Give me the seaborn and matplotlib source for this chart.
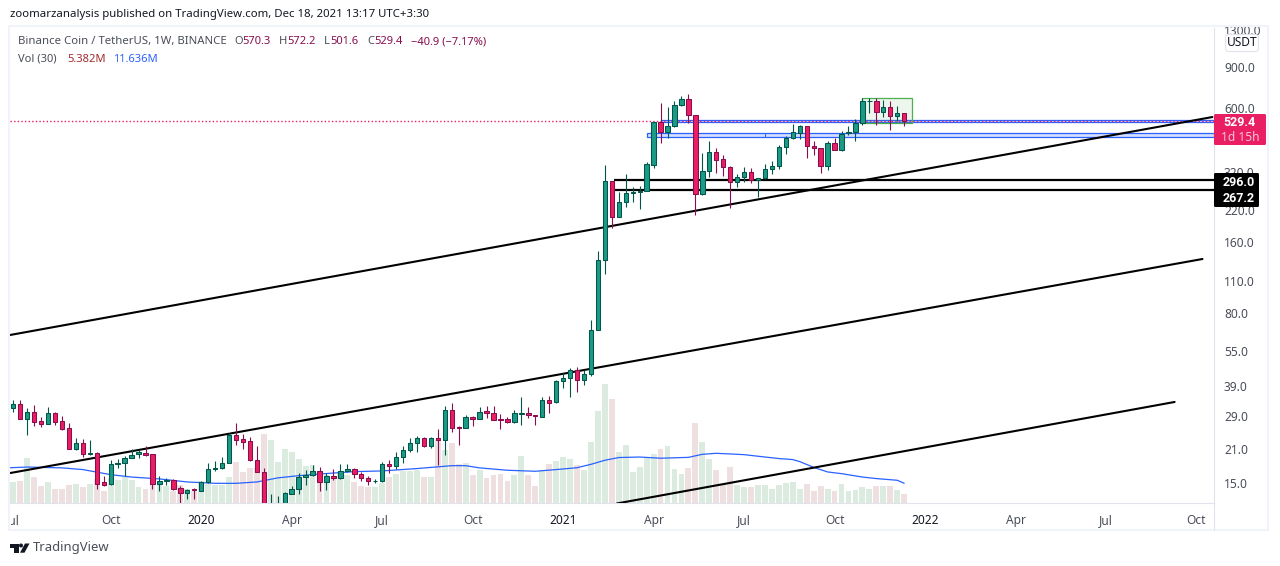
"""
BNB/USDT weekly chart with volume, trend lines and price zones.
Prices and volumes were read off a published TradingView picture.
"""
import matplotlib
matplotlib.use("Agg")
import matplotlib.dates as mdates
import matplotlib.pyplot as plt
import numpy as np
import pandas as pd
import seaborn as sns
from matplotlib.patches import Circle, FancyBboxPatch, Polygon, Rectangle
from matplotlib.ticker import NullLocator
from matplotlib.transforms import Bbox

# weekly candles, first bar is the week of 2019-07-01
opens = [31.5, 32.7, 28.1, 30.1, 27.6, 26.9, 29.8, 27.5, 25.7, 21.0,
         22.2, 20.0, 20.15, 15.1, 14.8, 18.0, 18.3, 19.15, 19.95, 20.2,
         19.95, 14.8, 15.3, 15.5, 14.25, 13.55, 14.1, 13.85, 15.1, 17.2,
         17.35, 18.25, 24.1, 23.05, 22.6, 18.8, 16.7, 10.1, 11.8, 12.2,
         13.5, 14.1, 15.9, 16.2, 16.9, 15.1, 16.05, 15.75, 16.8, 17.15,
         16.4, 15.75, 15.25, 15.25, 18.0, 17.8, 19.3, 20.75, 22.2, 23.3,
         21.5, 23.3, 22.85, 30.7, 26.0, 25.85, 28.65, 28.1, 30.4, 29.8,
         28.15, 28.1, 27.3, 29.7, 29.8, 29.2, 28.85, 33.9, 33.2, 40.75,
         42.0, 45.6, 41.2, 43.8, 67.5, 134.3, 292.4, 206.4, 237.3, 259.7,
         262, 264.9, 344.3, 522, 476.4, 502, 617, 655, 563, 257.2,
         322.4, 389, 362.9, 335.4, 289.4, 304, 319.6, 296.1, 301, 329,
         338, 408, 446, 472, 502, 413, 404, 340, 425, 399,
         469, 473, 518, 641, 642, 577, 606, 554, 570.3]
highs = [34, 34, 31.3, 32.35, 28.6, 31.6, 30.1, 29, 27, 23.3,
         23.05, 22.9, 20.3, 16.1, 18.85, 19, 19.6, 20.9, 20.7, 21.6,
         20, 16, 15.7, 15.6, 14.5, 14.1, 14.3, 15.3, 18.25, 18.55,
         19.35, 24.5, 27.2, 24.3, 23.7, 21.6, 17.4, 13.5, 13.2, 13.75,
         14.5, 16.5, 17.08, 17.9, 17.6, 16.5, 17.2, 18.1, 18.1, 17.35,
         16.65, 16.1, 15.6, 18.4, 18.85, 20.3, 21.65, 23.3, 23.8, 23.5,
         23.5, 25.45, 31.85, 32.9, 26.4, 29.3, 29, 31.6, 31.85, 32.05,
         29.5, 28.65, 30.8, 34.9, 31.6, 29.3, 35.1, 35.4, 41.4, 44.3,
         46.5, 47, 45.7, 74.7, 147.3, 343, 292.4, 263.9, 314.1, 275.5,
         279, 354.6, 522, 633.6, 609, 644, 676, 690, 563, 387.7,
         433, 404.5, 377.8, 340, 313, 335.4, 331.8, 303, 346.6, 357,
         418, 456, 514, 507, 502, 435, 404, 435, 449, 480,
         503, 538, 661, 661, 661, 650, 644, 613, 572.2]
lows = [30.3, 28.1, 24.1, 26.3, 26.15, 26.9, 26.6, 25.3, 20.9, 20.8,
        19.45, 19.75, 14.2, 14.5, 14.7, 17.4, 16.0, 19.1, 19.15, 19.6,
        14.2, 13.8, 14.75, 14.0, 12.3, 12.8, 12.8, 13.8, 15.0, 16.9,
        17.2, 18.25, 21.7, 20.9, 18.7, 16.7, 6.9, 9.0, 10.7, 12.0,
        13.45, 13.5, 14.7, 16.0, 13.8, 13.95, 15.5, 15.65, 16.7, 15.8,
        15.25, 14.75, 15.05, 15.2, 16.55, 17.15, 18.35, 20.45, 20.45, 21.35,
        21.15, 17.9, 19.8, 24.9, 21.9, 25.7, 26.4, 28.1, 28.4, 27.9,
        25.5, 27.0, 27.2, 26.5, 28.55, 26.5, 28.75, 30.0, 33.1, 38.1,
        34.8, 36.7, 39.5, 43.1, 67.5, 117.8, 185.2, 206.4, 227.8, 239.2,
        222.5, 264.9, 334, 427.4, 449, 500, 613, 520, 209.7, 255.5,
        306, 318.2, 308, 225.5, 275.5, 291.3, 288, 251, 298, 314,
        331, 382, 443, 443, 369, 378, 318, 327, 398, 392,
        461, 433, 510, 570, 510, 548, 484, 530, 501.6]
closes = [32.7, 28.1, 30.1, 27.45, 26.9, 29.8, 27.45, 25.6, 21.0, 22.2,
          20.05, 20.15, 14.9, 14.75, 18.05, 18.3, 19.15, 19.85, 20.3, 19.75,
          14.8, 15.3, 15.5, 14.2, 13.55, 14.0, 14.0, 15.2, 17.2, 17.4,
          18.25, 24.1, 22.95, 22.5, 18.8, 16.7, 10.1, 11.8, 12.2, 13.6,
          14.1, 15.9, 16.3, 16.9, 15.1, 16.05, 15.7, 16.8, 17.2, 16.4,
          15.75, 15.25, 15.3, 18.0, 17.8, 19.35, 20.75, 22.2, 23.3, 21.5,
          23.3, 22.85, 30.7, 25.85, 25.8, 28.65, 28.1, 30.3, 29.8, 28.0,
          28.0, 27.3, 29.8, 29.9, 29.2, 28.9, 33.8, 33.1, 40.75, 42.0,
          45.6, 41.2, 43.8, 67.5, 134.3, 292.4, 206.4, 237.3, 259.7, 264,
          265.8, 345.4, 522, 476.4, 502, 617, 655, 563, 257.2, 322.4,
          388.9, 361.7, 335.4, 289.4, 304, 319.6, 296.1, 301, 329, 338.8,
          408.3, 446, 473, 502, 412, 404, 340, 425, 399, 464,
          474.5, 519, 642, 644, 577, 606, 554, 570.3, 529.4]

# volume in millions
volumes = [12.2, 13.2, 26.8, 15.5, 10.2, 12.6, 8.5, 8.5, 10.8, 11.4,
           9.2, 11.4, 14.2, 7.3, 14.6, 13.4, 15.1, 13.8, 9.4, 8.5,
           12, 11.4, 9.8, 6.9, 10.8, 8.3, 6.9, 12.8, 11.4, 10.8,
           10.8, 15.5, 24.4, 18.5, 20.5, 20.7, 40.9, 37.4, 24, 32,
           30.3, 26, 22, 22.6, 15, 16.7, 15.7, 18.7, 16.7, 12.6,
           10.2, 9.6, 9.6, 11.8, 15.5, 17.3, 19.1, 18.7, 19.3, 15.5,
           15.5, 37.4, 31.5, 35.6, 23.2, 23.8, 16.7, 19.7, 14.9, 16.7,
           17.3, 13.2, 16.7, 27.9, 16.7, 10.2, 19.7, 23.2, 25, 27.3,
           26.2, 22.6, 19.7, 36.2, 54.5, 70.4, 61.6, 30.3, 34.4, 18.5,
           21.4, 26.6, 29.1, 32.1, 33.8, 20.3, 17.3, 20.9, 47.4, 36.2,
           26.2, 19.7, 11.4, 21.4, 10.8, 9.6, 9.6, 10.4, 10.8, 8.5,
           10.8, 12, 12.6, 8.5, 11.4, 7.3, 10.2, 8.5, 7.3, 11.4,
           7.3, 7.9, 9.6, 8.5, 10.2, 10.2, 10.2, 7.9, 5.382]

# volume moving average, read at these bar numbers
ma_bars = [-1, 2, 7, 10, 14, 17, 21, 25, 29, 32, 35, 38, 41, 44, 49, 53, 58, 63,
           65, 67, 71, 75, 78, 81, 83, 85, 87, 90, 93, 97, 99, 101, 105, 108,
           110, 112, 113, 115, 117, 119, 122, 124, 127, 128]
ma_values = [20.7, 21.2, 20.7, 19.7, 16.7, 15.3, 14.2, 12.4, 11.6, 11.6, 12.4, 14.8,
             16.1, 17.1, 18.5, 18.9, 20.3, 22.0, 22.0, 20.7, 19.3, 18.7, 19.7, 20.8,
             22.8, 25.2, 26.8, 27.1, 26.4, 26.9, 28.7, 29.3, 28.5, 27.1, 26.2, 25.6,
             24.4, 21.0, 18.3, 17.3, 15.3, 14.4, 13.4, 11.636]

# drawings: (start date, start price, end date, end price)
trend_lines = [("2019-06-28", 64.4, "2022-10-19", 550),
               ("2019-06-28", 16.55, "2022-10-09", 136),
               ("2021-02-27", 12.26, "2022-09-11", 33.3)]
level_start = "2021-02-24"
levels = [296.0, 267.2]
last_price = 529.4

tick_dates = ["2019-07-01", "2019-10-07", "2020-01-06", "2020-04-06", "2020-07-06",
              "2020-10-05", "2021-01-04", "2021-04-05", "2021-07-05", "2021-10-04",
              "2022-01-03", "2022-04-04", "2022-07-04", "2022-10-03"]
tick_names = ["Jul", "Oct", "2020", "Apr", "Jul", "Oct", "2021", "Apr", "Jul", "Oct",
              "2022", "Apr", "Jul", "Oct"]
price_ticks = [1300, 900, 600, 320, 220, 160, 110, 80, 55, 39, 29, 21, 15]

GREEN = "#1b9a85"
GREEN_DARK = "#00564b"
RED = "#e91e63"
RED_DARK = "#880e4f"
BLUE = "#2962ff"
TEXT = "#4a4e59"
INK = "#131722"
LINE = "#e0e3eb"

sns.set_theme(style="white")
plt.rcParams["font.family"] = ["Noto Sans", "DejaVu Sans"]
plt.rcParams["font.size"] = 8.6

W, H = 1280, 566
LEFT, RIGHT, TOP, BOTTOM = 10, 1213.5, 28, 503
fig = plt.figure(figsize=(W / 100, H / 100), dpi=100, facecolor="white")
rect = [LEFT / W, (H - BOTTOM) / H, (RIGHT - LEFT) / W, (BOTTOM - TOP) / H]
ax_vol = fig.add_axes(rect, zorder=1)
ax = fig.add_axes(rect, zorder=2)
ax.patch.set_visible(False)

weeks = pd.date_range("2019-07-01", periods=len(opens), freq="7D")
xs = mdates.date2num(weeks)
xlim = (xs[0] - 3.3, xs[0] + 1207.1)
o, h, l, c = map(np.array, (opens, highs, lows, closes))
up = c >= o


def num(day):
    return mdates.date2num(pd.Timestamp(day))


# volume pane, light bars along the bottom
df = pd.DataFrame({"x": xs, "volume": volumes, "dir": np.where(up, "up", "down")})
sns.barplot(data=df, x="x", y="volume", hue="dir", native_scale=True, dodge=False,
            palette={"up": "#dcebdf", "down": "#eedfe0"}, saturation=1, width=0.84,
            errorbar=None, legend=False, linewidth=0, ax=ax_vol)
sns.lineplot(x=xs[0] + 7 * np.array(ma_bars), y=ma_values, color=BLUE, lw=0.9,
             errorbar=None, ax=ax_vol)
ax_vol.set_xlim(xlim)
ax_vol.set_ylim(0, 280)
ax_vol.axis("off")

# price pane
ax.set_yscale("log")
ax.set_xlim(xlim)
ax.set_ylim(12.32, 1321)

# zones
x_end = xlim[1]
for start, bottom, top in [("2021-04-12", 525, 535), ("2021-03-29", 450, 468)]:
    ax.add_patch(Rectangle((num(start), bottom), x_end - num(start), top - bottom,
                           fc=(0.16, 0.38, 1, 0.2), ec=BLUE, lw=0.9, zorder=2))
ax.vlines(num("2021-07-26"), 450, 468, color=BLUE, lw=0.7, zorder=2)
ax.add_patch(Rectangle((num("2021-11-01"), 517), 49.7, 661.7 - 517,
                       fc=(0.3, 0.69, 0.31, 0.1), ec="#4caf50", lw=0.9, zorder=2))
ax.hlines(last_price, xlim[0], x_end, color=RED, lw=1.0, linestyles=(0, (1, 1.6)), zorder=2.5)

for x0, y0, x1, y1 in trend_lines:
    ax.plot([num(x0), num(x1)], [y0, y1], color="black", lw=1.5, zorder=3)
ax.hlines(levels, num(level_start), x_end, color="black", lw=1.6, zorder=3)

# candles
colors = np.where(up, GREEN, RED)
edges = np.where(up, GREEN_DARK, RED_DARK)
ax.vlines(xs, l, h, colors=edges, lw=0.8, zorder=4)
ax.bar(xs, np.maximum(np.abs(c - o), 1e-3), bottom=np.minimum(o, c), width=4.4,
       color=colors, edgecolor=edges, linewidth=0.75, zorder=5)

# axes, ticks on the right and below
for side in ("left", "top"):
    ax.spines[side].set_visible(False)
for side in ("right", "bottom"):
    ax.spines[side].set_color(LINE)
    ax.spines[side].set_linewidth(0.8)
ax.yaxis.tick_right()
ax.yaxis.set_minor_locator(NullLocator())
ax.set_yticks(price_ticks)
ax.set_yticklabels([f"{p:.1f}" for p in price_ticks], color=TEXT, fontsize=8.6)
ax.set_xticks([num(d) for d in tick_dates])
ax.set_xticklabels(tick_names, fontsize=8.6)
ax.tick_params(axis="both", length=0)
ax.tick_params(axis="y", pad=7.5)
ax.tick_params(axis="x", pad=8)
for label in ax.get_xticklabels():
    is_year = label.get_text().isdigit()
    label.set_color(INK if is_year else TEXT)
    label.set_fontweight("medium" if is_year else "normal")
    # first label is cut by the chart edge, top price label too
    label.set_clip_box(Bbox([[LEFT + 0.5, 0], [W, H]]))
    label.set_clip_on(True)
for label in ax.get_yticklabels():
    label.set_clip_box(Bbox([[0, 0], [W, H - TOP + 1]]))
    label.set_clip_on(True)

# overlay in pixels for the frame, header, price tags and logo
ov = fig.add_axes([0, 0, 1, 1], zorder=10)
ov.set_xlim(0, W)
ov.set_ylim(H, 0)
ov.axis("off")
ov.add_patch(Rectangle((9, 26), 1259, 504, fc="none", ec="#f0f3fa", lw=1.5))
ov.plot([1214, 1214], [503, 530], color=LINE, lw=0.8)


def put(x, y, text, color=TEXT, size=8.2, weight="normal", ha="left", family=None):
    return ov.text(x, y, text, color=color, fontsize=size, fontweight=weight, ha=ha, va="center",
                   family=family)


put(10, 15, "zoomarzanalysis published on TradingView.com, Dec 18, 2021 13:17 UTC+3:30", color=INK)
put(18, 41.5, "Binance Coin / TetherUS, 1W, BINANCE", size=8.2)
for x_label, x_value, name, value in [(234, 242, "O", "570.3"), (279, 287, "H", "572.2"),
                                      (324, 330, "L", "501.6"), (367, 374, "C", "529.4")]:
    put(x_label, 41.5, name, size=8.0)
    put(x_value, 41.5, value, color=RED_DARK, size=8.0)
put(411, 41.5, "\u221240.9 (\u22127.17%)", color=RED_DARK, size=8.0)
put(18, 59, "Vol (30)", size=8.0)
put(67, 59, "5.382M", color="#a32a2e", size=8.0)
put(113, 59, "11.636M", color=BLUE, size=8.0)

ov.add_patch(FancyBboxPatch((1225.5, 34.5), 33, 17, boxstyle="round,pad=0,rounding_size=3",
                            fc="white", ec=LINE, lw=0.8))
put(1242, 43, "USDT", color=INK, ha="center", size=8.6)

ov.add_patch(FancyBboxPatch((1214, 114), 52, 31, boxstyle="round,pad=0,rounding_size=1.5",
                            fc=RED, ec="none"))
put(1239.5, 122.5, "529.4", color="white", weight="bold", ha="center", size=9, family="Roboto")
put(1240, 137.5, "1d 15h", color="#fbc4d6", ha="center", size=8.6)
ov.add_patch(FancyBboxPatch((1214, 173), 45, 34, boxstyle="round,pad=0,rounding_size=1.5",
                            fc="black", ec="none"))
put(1239, 182, "296.0", color="white", weight="bold", ha="center", size=9, family="Roboto")
put(1239, 198.5, "267.2", color="white", weight="bold", ha="center", size=9, family="Roboto")

ov.add_patch(Polygon([(10, 543.5), (18.5, 543.5), (18.5, 552.7), (14.3, 552.7), (14.3, 547.5), (10, 547.5)],
                     fc=INK, ec="none"))
ov.add_patch(Circle((21, 545.5), 2, fc=INK, ec="none"))
ov.add_patch(Polygon([(25, 543.5), (29.5, 543.5), (24.5, 552.7), (20, 552.7)], fc=INK, ec="none"))
put(33, 548, "TradingView", size=9.4)

fig.savefig("out.png", dpi=100)
